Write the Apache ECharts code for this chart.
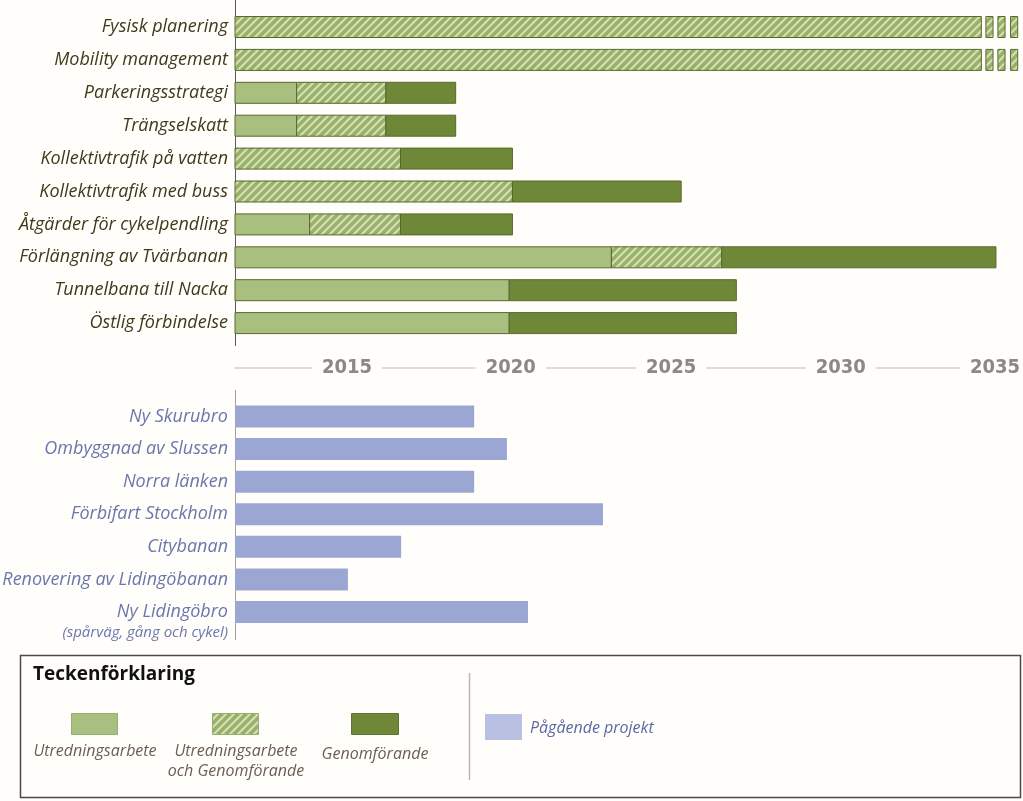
<!DOCTYPE html>
<html><head><meta charset="utf-8">
<script src="https://cdn.jsdelivr.net/npm/echarts@6/dist/echarts.min.js"></script>
<style>html,body{margin:0;padding:0;background:#fffefa;}#c{width:1023px;height:801px;}</style>
</head><body><div id="c"></div>
<script>
// ---------- DATA ----------
const measures = ['Fysisk planering','Mobility management','Parkeringsstrategi','Trängselskatt','Kollektivtrafik på vatten','Kollektivtrafik med buss','Åtgärder för cykelpendling','Förlängning av Tvärbanan','Tunnelbana till Nacka','Östlig förbindelse'];
const planStart = 2012;
// end year of each phase (a phase is absent when its end equals the previous end)
const utredningEnd    = [2012, 2012, 2013.9, 2013.9, 2012, 2012, 2014.3, 2023.6, 2020.45, 2020.45];
const kombineratEnd   = [2035, 2035, 2016.65, 2016.65, 2017.1, 2020.55, 2017.1, 2027.0, 2020.45, 2020.45];
const genomforandeEnd = [2035, 2035, 2018.8, 2018.8, 2020.55, 2025.75, 2020.55, 2035.45, 2027.45, 2027.45];
const continuesAfter  = [true, true, false, false, false, false, false, false, false, false];
const continuationMarks = [[2035.14, 2035.36], [2035.51, 2035.73], [2035.9, 2036.12]];

const ongoing = ['Ny Skurubro','Ombyggnad av Slussen','Norra länken','Förbifart Stockholm','Citybanan','Renovering av Lidingöbanan','Ny Lidingöbro'];
const ongoingNote = ['', '', '', '', '', '', '(spårväg, gång och cykel)'];
const ongoingEnd = [2019.37, 2020.38, 2019.37, 2023.34, 2017.12, 2015.48, 2021.03];

const tickLabels = ['2015','2020','2025','2030','2035'];
const tickPositions = [2015.45, 2020.5, 2025.44, 2030.67, 2035.42];

const legendLabels = ['Utredningsarbete','Utredningsarbete\noch Genomförande','Genomförande','Pågående projekt'];

// ---------- STYLE ----------
const BG = '#fffefa';
const LIGHT = '#a9bf7f', DARK = '#6e8838', EDGE = '#58692c', BLUE = '#9ba6d3';
function hatch(){
  const s = 8, c = document.createElement('canvas');
  c.width = s; c.height = s;
  const g = c.getContext('2d');
  g.fillStyle = '#d2dfb4'; g.fillRect(0,0,s,s);
  g.strokeStyle = '#98b068'; g.lineWidth = 3.4;
  g.beginPath();
  g.moveTo(-2, s+2); g.lineTo(s+2, -2);
  g.moveTo(-2, 2); g.lineTo(2, -2);
  g.moveTo(s-2, s+2); g.lineTo(s+2, s-2);
  g.stroke();
  return c;
}
const HATCH = {image: hatch(), repeat: 'repeat'};
const fills = [LIGHT, HATCH, DARK];

// build segments
const topSegs = [];
measures.forEach((m, i) => {
  const b = [planStart, utredningEnd[i], kombineratEnd[i], genomforandeEnd[i]];
  for (let t = 0; t < 3; t++) if (b[t+1] > b[t]) topSegs.push([i, b[t], b[t+1], t]);
  if (continuesAfter[i]) continuationMarks.forEach(cm => topSegs.push([i, cm[0], cm[1], 1]));
});
const botSegs = ongoing.map((m, i) => [i, planStart, ongoingEnd[i]]);

function segRender(h, fillFn, stroke){
  return function(params, api){
    const cat = api.value(0);
    const p0 = api.coord([api.value(1), cat]);
    const p1 = api.coord([api.value(2), cat]);
    return {type:'rect', shape:{x:p0[0], y:p0[1]-h/2, width:p1[0]-p0[0], height:h},
      style:{fill: fillFn(api), stroke: stroke, lineWidth: stroke ? 1 : 0}};
  };
}

const X0 = 235, PX = 32.45, XMAX = 2036.3;
const xW = (XMAX - 2012) * PX;
const ITAL = '"Open Sans", "Noto Sans", sans-serif';
const TXT2 = '#6b77ac';

const chart = echarts.init(document.getElementById('c'), null, {renderer:'canvas'});
const lx = [95, 236, 375];
const legendGraphics = [
  {type:'rect', shape:{x:20.5, y:655.5, width:1000, height:142}, style:{fill:'none', stroke:'#4a4a4a', lineWidth:1.5}},
  {type:'text', x:33, y:675, style:{text:'Teckenförklaring', fill:'#111', font:'bold 19px "Open Sans", sans-serif', verticalAlign:'middle'}},
  {type:'line', shape:{x1:469.5, y1:673, x2:469.5, y2:780}, style:{stroke:'#b8b8b8', lineWidth:1.5}},
  {type:'rect', shape:{x:71.5, y:713.5, width:46, height:21}, style:{fill:LIGHT, stroke:'#9aae74', lineWidth:1}},
  {type:'rect', shape:{x:212.5, y:713.5, width:46, height:21}, style:{fill:HATCH, stroke:'#9aae74', lineWidth:1}},
  {type:'rect', shape:{x:351.5, y:713.5, width:47, height:21}, style:{fill:DARK, stroke:'#5e7630', lineWidth:1}},
  {type:'rect', shape:{x:485, y:714, width:37, height:26}, style:{fill:'#b9c0e2'}},
  {type:'text', x:lx[0], y:751, style:{text:legendLabels[0], fill:'#6a5d54', font:'italic 16px '+ITAL, align:'center', verticalAlign:'middle'}},
  {type:'text', x:lx[1], y:761, style:{text:legendLabels[1], fill:'#6a5d54', font:'italic 16px '+ITAL, align:'center', verticalAlign:'middle', lineHeight:20}},
  {type:'text', x:lx[2], y:754, style:{text:legendLabels[2], fill:'#6a5d54', font:'italic 16px '+ITAL, align:'center', verticalAlign:'middle'}},
  {type:'text', x:530, y:728, style:{text:legendLabels[3], fill:'#5a69a6', font:'italic 16px '+ITAL, verticalAlign:'middle'}}
];

chart.setOption({
  backgroundColor: BG,
  animation: false,
  grid: [
    {left: X0, top: 10.55, width: xW, height: 329, outerBoundsMode:'none'},
    {left: X0, top: 400.2, width: xW, height: 228.1, outerBoundsMode:'none'}
  ],
  xAxis: [
    {gridIndex:0, type:'value', min:2012, max:XMAX, offset:28.5,
      axisLine:{show:true, lineStyle:{color:'#d6cfcb', width:1.5}},
      axisTick:{show:false}, splitLine:{show:false},
      axisLabel:{customValues: tickPositions, formatter: v => tickLabels[tickPositions.indexOf(v)],
        verticalAlign:'middle', margin:0, backgroundColor:BG, padding:[2,10],
        color:'#8a8888', fontWeight:'bold', fontSize:20, fontFamily:'"DejaVu Sans Condensed", "Liberation Sans Narrow", sans-serif'}},
    {gridIndex:1, type:'value', min:2012, max:XMAX, show:false}
  ],
  yAxis: [
    {gridIndex:0, type:'category', data: measures, inverse:true,
      axisLine:{show:false}, axisTick:{show:false},
      axisLabel:{interval:0, margin:7, color:'#3d3b1b', fontSize:18, fontStyle:'italic', fontFamily:ITAL}},
    {gridIndex:1, type:'category', data: ongoing, inverse:true,
      axisLine:{show:false}, axisTick:{show:false},
      axisLabel:{interval:0, hideOverlap:false, margin:7, color:TXT2, fontSize:18, fontStyle:'italic', fontFamily:ITAL}}
  ],
  series: [
    {type:'custom', xAxisIndex:0, yAxisIndex:0, data: topSegs, encode:{x:[1,2], y:0},
      renderItem: segRender(21, api => fills[api.value(3)], EDGE)},
    {type:'custom', xAxisIndex:1, yAxisIndex:1, data: botSegs, encode:{x:[1,2], y:0},
      renderItem: segRender(22, () => BLUE, null)},
    // sub-notes under the ongoing-project labels, positioned through the category axis
    {type:'custom', xAxisIndex:1, yAxisIndex:1, silent:true,
      data: ongoing.map((m, i) => [i, planStart]).filter(d => ongoingNote[d[0]]),
      renderItem: function(params, api){
        const i = api.value(0);
        const p = api.coord([api.value(1), i]);
        return {type:'text', x:p[0]-7, y:p[1]+21,
          style:{text: ongoingNote[i], fill:TXT2, font:'italic 15px '+ITAL, align:'right', verticalAlign:'middle'}};
      }}
  ],
  graphic: [
    {type:'line', shape:{x1:X0+0.5, y1:0, x2:X0+0.5, y2:346}, style:{stroke:'#5a5a5a', lineWidth:1}},
    {type:'line', shape:{x1:X0+0.5, y1:390, x2:X0+0.5, y2:640}, style:{stroke:'#a0a0a0', lineWidth:1}}
  ].concat(legendGraphics)
});
</script></body></html>
